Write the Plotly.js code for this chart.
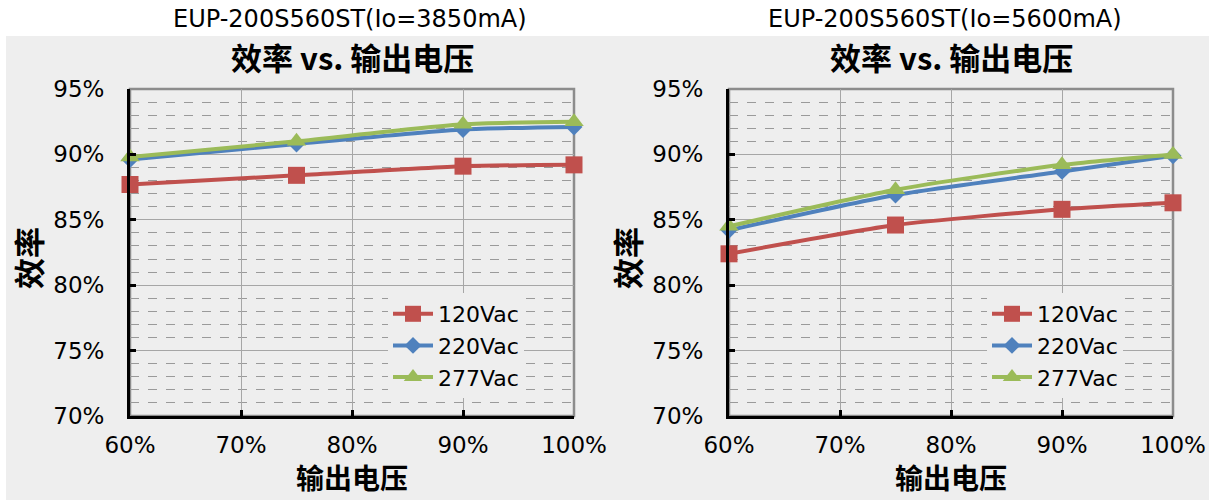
<!DOCTYPE html>
<html>
<head>
<meta charset="utf-8">
<script src="https://cdn.plot.ly/plotly-3.0.1.min.js"></script>
<style>html,body{margin:0;padding:0;background:#fff;}#chart{width:1213px;height:500px;}</style>
</head>
<body>
<div id="chart"></div>
<script>
// ---- data ----
const outputVoltage = [60, 75, 90, 100];            // % of rated output voltage
const seriesNames = ["120Vac", "220Vac", "277Vac"];
// Io = 3850mA
const eff120_3850 = [87.7, 88.4, 89.1, 89.2];
const eff220_3850 = [89.6, 90.8, 91.9, 92.1];
const eff277_3850 = [89.8, 91.0, 92.3, 92.5];
// Io = 5600mA
const eff120_5600 = [82.4, 84.6, 85.8, 86.3];
const eff220_5600 = [84.2, 86.9, 88.7, 89.9];
const eff277_5600 = [84.5, 87.3, 89.2, 90.0];
const chartTitles = ["EUP-200S560ST(Io=3850mA)", "EUP-200S560ST(Io=5600mA)"];
const subTitle = "效率 vs. 输出电压";
const yTitle = "效率";
const xTitle = "输出电压";

// ---- styles ----
const W = 1213, H = 500;
const colors = ["#C0504D", "#4F81BD", "#9BBB59"];
const symbols = ["square", "diamond", "triangle-up"];
const msizes = [17, 13, 17];
const bg = "#eeeeee";
const latin = "DejaVu Sans, sans-serif";
const cjk = "Noto Sans CJK SC, sans-serif";

const px = v => v / W;
const py = v => (H - v) / H;

const plots = [
  {x0: 130, x1: 574, data: [eff120_3850, eff220_3850, eff277_3850], xa: "x", ya: "y", lg: "legend"},
  {x0: 729, x1: 1173, data: [eff120_5600, eff220_5600, eff277_5600], xa: "x2", ya: "y2", lg: "legend2"}
];
const yTop = 89, yBot = 416;

const traces = [];
plots.forEach(p => {
  p.data.forEach((vals, i) => {
    traces.push({
      x: outputVoltage, y: vals, name: seriesNames[i],
      xaxis: p.xa, yaxis: p.ya, legend: p.lg,
      mode: "lines+markers", type: "scatter",
      line: {color: colors[i], width: 4, shape: "spline", smoothing: 0.6},
      marker: {symbol: symbols[i], size: msizes[i], color: colors[i]},
      cliponaxis: false
    });
  });
});

function xaxisDef(p) {
  return {
    domain: [px(p.x0), px(p.x1)], range: [60, 100], dtick: 10, tick0: 60,
    ticksuffix: "%", showgrid: true, gridcolor: "#a6a6a6", gridwidth: 1,
    showline: true, linecolor: "#000", linewidth: 3,
    ticks: "inside", ticklen: 6, tickwidth: 3, tickcolor: "#000",
    ticklabelstandoff: 6,
    tickfont: {family: latin, size: 23, color: "#000"},
    zeroline: false, fixedrange: true,
    anchor: p.ya
  };
}
function yaxisDef(p) {
  return {
    domain: [py(yBot), py(yTop)], range: [70, 95], dtick: 5, tick0: 70,
    ticksuffix: "%", showgrid: true, gridcolor: "#a6a6a6", gridwidth: 1,
    minor: {dtick: 1, showgrid: true, gridcolor: "#9a9a9a", griddash: "dash", gridwidth: 1},
    showline: true, linecolor: "#000", linewidth: 3,
    ticks: "inside", ticklen: 6, tickwidth: 3, tickcolor: "#000",
    ticklabelstandoff: 18,
    tickfont: {family: latin, size: 23, color: "#000"},
    zeroline: false, fixedrange: true,
    anchor: p.xa
  };
}

const shapes = [
  {type: "rect", xref: "paper", yref: "paper", x0: px(6), x1: px(1209), y0: 0, y1: py(36),
   fillcolor: bg, line: {width: 0}, layer: "below"}
];
plots.forEach(p => {
  shapes.push({type: "rect", xref: "paper", yref: "paper", x0: px(p.x0), x1: px(p.x1), y0: py(yBot), y1: py(yTop),
    line: {color: "#8c8c8c", width: 2.5}, fillcolor: "rgba(0,0,0,0)", layer: "between"});
});

const annotations = [];
plots.forEach((p, k) => {
  const cx = (p.x0 + p.x1) / 2;
  annotations.push({text: chartTitles[k], xref: "paper", yref: "paper", x: px(cx + (k === 0 ? -2 : -6)), y: py(19),
    xanchor: "center", yanchor: "middle", showarrow: false, font: {family: latin, size: 24, color: "#000"}});
  annotations.push({text: "<b>" + subTitle + "</b>", xref: "paper", yref: "paper", x: px(cx), y: py(57),
    xanchor: "center", yanchor: "middle", showarrow: false, font: {family: cjk, size: 31, color: "#000"}});
  annotations.push({text: "<b>" + yTitle + "</b>", xref: "paper", yref: "paper", x: px(p.x0 - 103), y: py(258),
    xanchor: "center", yanchor: "middle", textangle: -90, showarrow: false, font: {family: cjk, size: 31, color: "#000"}});
  annotations.push({text: "<b>" + xTitle + "</b>", xref: "paper", yref: "paper", x: px(cx), y: py(477),
    xanchor: "center", yanchor: "middle", showarrow: false, borderpad: 0, font: {family: cjk, size: 28, color: "#000"}});
});

function legendDef(p) {
  return {
    x: px(p.x0 + 258), y: py(293), xanchor: "left", yanchor: "top",
    bgcolor: bg, borderwidth: 0,
    font: {family: latin, size: 22, color: "#000"},
    itemwidth: 40, tracegroupgap: 0
  };
}

const layout = {
  width: W, height: H,
  margin: {l: 0, r: 0, t: 0, b: 0},
  paper_bgcolor: "#ffffff", plot_bgcolor: bg,
  showlegend: true,
  xaxis: xaxisDef(plots[0]), yaxis: yaxisDef(plots[0]),
  xaxis2: xaxisDef(plots[1]), yaxis2: yaxisDef(plots[1]),
  legend: legendDef(plots[0]), legend2: legendDef(plots[1]),
  shapes: shapes, annotations: annotations
};

Plotly.newPlot("chart", traces, layout, {displayModeBar: false, staticPlot: true});
</script>
</body>
</html>
